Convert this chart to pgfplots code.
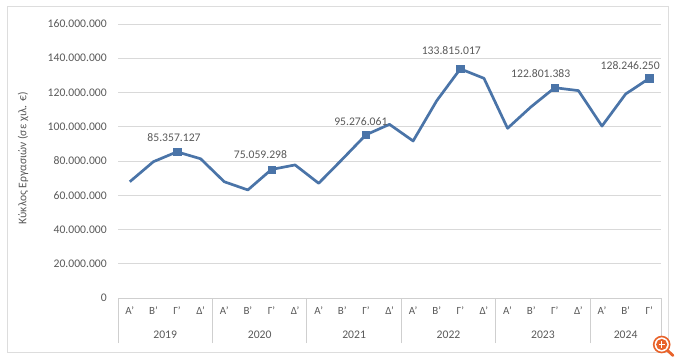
\documentclass[border=0pt]{standalone}
\usepackage{pgfplots}
\pgfplotsset{compat=1.18}
\usepackage{fontspec}
\setmainfont{Carlito}
\definecolor{linecol}{HTML}{4A74A8}
\definecolor{txt}{HTML}{595959}
\definecolor{gridc}{HTML}{D9D9D9}
\definecolor{sepc}{HTML}{CFCFCF}
\definecolor{framec}{HTML}{DDDDDD}
\definecolor{zoomc}{HTML}{E8632B}
\begin{document}
\begin{tikzpicture}[x=1bp,y=1bp,font=\fontsize{11.7}{14}\selectfont]
\useasboundingbox (0,0) rectangle (680,362);
\draw[framec, line width=1bp] (7,10) rectangle (668,355);
\node[rotate=90, text=txt] at (23,203.5) {Κύκλος Εργασιών (σε χιλ. €)};
\begin{axis}[
  at={(118bp,64bp)}, anchor=south west,
  scale only axis, width=543bp, height=274bp,
  xmin=-0.5, xmax=22.5, ymin=0, ymax=160000000,
  clip=false,
  axis x line*=bottom, axis y line*=left,
  separate axis lines,
  y axis line style={draw=none},
  x axis line style={draw=sepc, line width=0.8bp, -},
  ytick={0,20000000,40000000,60000000,80000000,100000000,120000000,140000000,160000000},
  yticklabels={0,20.000.000,40.000.000,60.000.000,80.000.000,100.000.000,120.000.000,140.000.000,160.000.000},
  scaled y ticks=false,
  ymajorgrids, grid style={gridc, line width=0.8bp},
  major tick length=0pt,
  xtick={0,1,...,22},
  xticklabels={Α',Β',Γ',Δ',Α',Β',Γ',Δ',Α',Β',Γ',Δ',Α',Β',Γ',Δ',Α',Β',Γ',Δ',Α',Β',Γ'},
  x tick label style={anchor=center, yshift=-13bp, text=txt, font=\fontsize{11}{13}\selectfont},
  y tick label style={anchor=east, inner sep=0pt, xshift=-11bp, text=txt},
  extra x ticks={-0.5,3.5,7.5,11.5,15.5,19.5,22.5},
  extra x tick labels={},
  extra x tick style={major tick length=45bp, tick align=outside, tick style={sepc, line width=0.8bp}},
]
\addplot[linecol, line width=2.7bp, mark=none, line join=round] coordinates {
(0,67900000) (1,79600000) (2,85357127) (3,81300000)
(4,67900000) (5,63100000) (6,75059298) (7,77700000)
(8,67000000) (9,81000000) (10,95276061) (11,101400000)
(12,91700000) (13,115200000) (14,133815017) (15,128300000)
(16,99100000) (17,111700000) (18,122801383) (19,121100000)
(20,100400000) (21,119100000) (22,128246250)
};
\addplot[only marks, mark=square*, mark size=3.7bp, color=linecol] coordinates {
(2,85357127) (6,75059298) (10,95276061) (14,133815017) (18,122801383) (22,128246250)
};
\node[text=txt, xshift=-3bp, yshift=14bp] at (axis cs:2,85357127) {85.357.127};
\node[text=txt, xshift=-11bp, yshift=15bp] at (axis cs:6,75059298) {75.059.298};
\node[text=txt, xshift=-5bp, yshift=13bp] at (axis cs:10,95276061) {95.276.061};
\node[text=txt, xshift=-9bp, yshift=18bp] at (axis cs:14,133815017) {133.815.017};
\node[text=txt, xshift=-14bp, yshift=14bp] at (axis cs:18,122801383) {122.801.383};
\node[text=txt, xshift=-19bp, yshift=12.5bp] at (axis cs:22,128246250) {128.246.250};
\node[text=txt, yshift=-37bp] at (axis cs:1.5,0) {2019};
\node[text=txt, yshift=-37bp] at (axis cs:5.5,0) {2020};
\node[text=txt, yshift=-37bp] at (axis cs:9.5,0) {2021};
\node[text=txt, yshift=-37bp] at (axis cs:13.5,0) {2022};
\node[text=txt, yshift=-37bp] at (axis cs:17.5,0) {2023};
\node[text=txt, yshift=-37bp] at (axis cs:21,0) {2024};
\end{axis}
% zoom icon overlay
\draw[zoomc, line width=2.8bp, line cap=round] (667,12) -- (673,6.5);
\draw[zoomc, line width=1.6bp, fill=white] (661.7,17.5) circle (8);
\fill[zoomc] (661.7,17.5) circle (5.6);
\draw[white, line width=1.4bp] (658.5,17.5) -- (664.9,17.5) (661.7,14.3) -- (661.7,20.7);
\end{tikzpicture}
\end{document}
